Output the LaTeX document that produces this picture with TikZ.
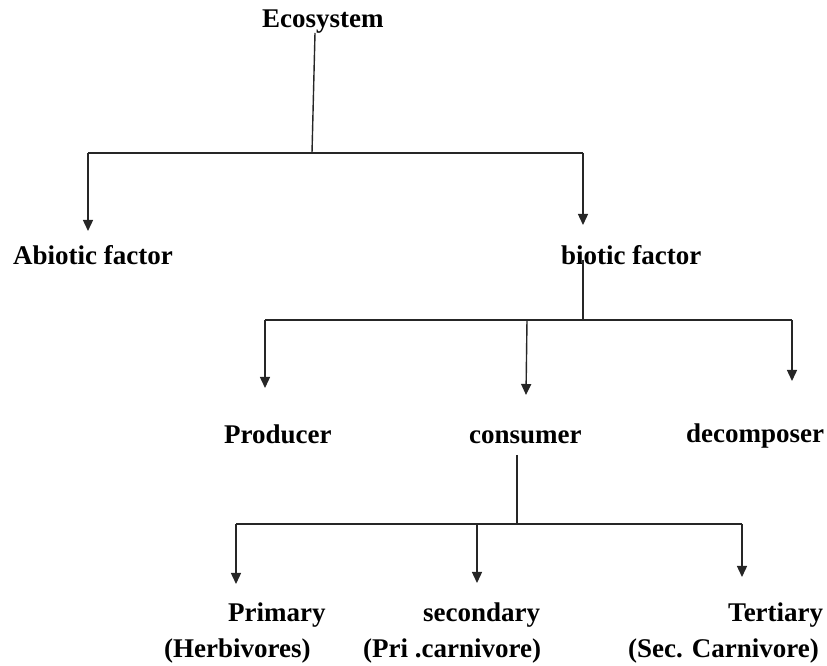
\documentclass[tikz,border=0pt]{standalone}
\usepackage{fontspec}
\setmainfont{Liberation Serif}
\usetikzlibrary{arrows.meta}
\begin{document}
\begin{tikzpicture}[x=1pt,y=1pt,
  lbl/.style={anchor=base west,inner sep=0pt,font=\fontsize{27}{32}\selectfont\bfseries,text=black},
  link/.style={draw=black!85,line width=1.4pt},
  arr/.style={link,-{Triangle[width=10pt,length=11pt]}}]
\useasboundingbox (0,0) rectangle (827,666);
% labels
\node[lbl] (eco) at (262,638) {Ecosystem};
\node[lbl] (abio) at (13,401) {Abiotic factor};
\node[lbl] (bio) at (561,401) {biotic factor};
\node[lbl] (prod) at (224,222) {Producer};
\node[lbl] (cons) at (469,222) {consumer};
\node[lbl] (deco) at (686,223) {decomposer};
\node[lbl] (prim) at (228,44) {Primary};
\node[lbl] (seco) at (423,44) {secondary};
\node[lbl] (tert) at (728,44) {Tertiary};
\node[lbl] (herb) at (164,8) {(Herbivores)};
\node[lbl] (pric) at (363,8) {(Pri .carnivore)};
\node[lbl] (secc) at (628,8) {(Sec. Carnivore)};
% junction and tip coordinates
\coordinate (e0) at (315,633);
\coordinate (e1) at (312,513);
\coordinate (ja) at (88,513);
\coordinate (jb) at (583,513);
\coordinate (ta) at (88,435);
\coordinate (tb) at (583,441);
\coordinate (b0) at (583,406);
\coordinate (b1) at (583,346);
\coordinate (jp) at (265,346);
\coordinate (jc) at (527,346);
\coordinate (jd) at (792,346);
\coordinate (tp) at (265,278);
\coordinate (tc) at (526,271);
\coordinate (td) at (792,285);
\coordinate (c0) at (517,211);
\coordinate (c1) at (517,142);
\coordinate (j1) at (236,142);
\coordinate (j2) at (477,142);
\coordinate (j3) at (742,142);
\coordinate (t1) at (236,82);
\coordinate (t2) at (477,83);
\coordinate (t3) at (742,89);
% connectors
\draw[link] (e0) -- (e1);
\draw[link] (ja) -- (jb);
\draw[arr] (ja) -- (ta);
\draw[arr] (jb) -- (tb);
\draw[link] (b0) -- (b1);
\draw[link] (jp) -- (jd);
\draw[arr] (jp) -- (tp);
\draw[arr] (jc) -- (tc);
\draw[arr] (jd) -- (td);
\draw[link] (c0) -- (c1);
\draw[link] (j1) -- (j3);
\draw[arr] (j1) -- (t1);
\draw[arr] (j2) -- (t2);
\draw[arr] (j3) -- (t3);
\end{tikzpicture}
\end{document}
